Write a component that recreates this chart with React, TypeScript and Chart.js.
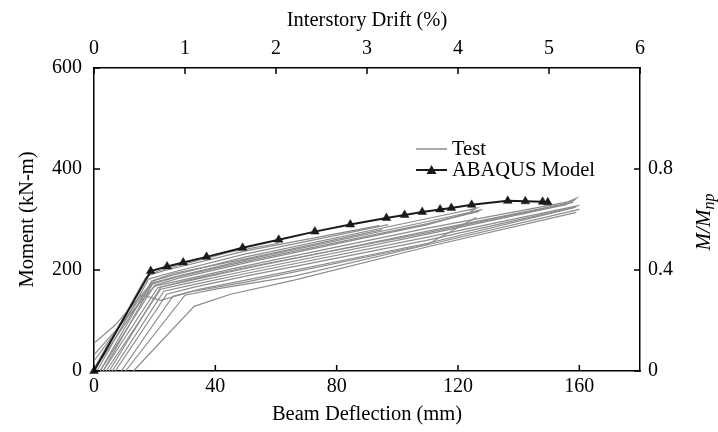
import React, { useEffect, useRef } from "react";
import { Chart, registerables } from "chart.js";

Chart.register(...registerables);

// ---- tick labels ----
const deflectionTicks = [0, 40, 80, 120, 160];
const momentTicks = [0, 200, 400, 600];
const driftTicks = [0, 1, 2, 3, 4, 5, 6];
const ratioTicks = [0, 0.4, 0.8];

// ---- ABAQUS model (mm, kN-m) ----
const abaqusDeflection = [0, 18.7, 24.1, 29.4, 37.1, 49, 60.9, 72.8, 84.5, 96.4, 102.4, 108.2, 114.1, 117.8, 124.5, 136.4, 142.2, 147.9, 149.6];
const abaqusMoment = [0, 198, 207, 215, 226, 244, 260, 276, 290, 303, 309, 315, 320, 323, 329, 337, 336, 335, 334];

// ---- Test curves: [deflection mm, moment kN-m] ----
const test01 = [[0, 0], [17, 185], [21, 198], [45, 236], [61, 253]];
const test02 = [[0, 5], [18, 190], [24, 200], [50, 238], [94, 288], [92, 285]];
const test03 = [[1, 0], [18, 182], [25, 194], [50, 232], [97, 290]];
const test04 = [[2, 0], [19, 178], [26, 190], [50, 226], [110, 302], [126, 322], [124, 316]];
const test05 = [[0, 55], [7, 91], [19, 174], [27, 187], [50, 220], [110, 296], [127, 318]];
const test06 = [[2, 0], [20, 170], [28, 184], [50, 214], [110, 290], [128, 320]];
const test07 = [[0, 32], [20, 168], [29, 180], [50, 208], [110, 283], [158, 337], [159, 342], [155, 332]];
const test08 = [[3, 0], [21, 165], [30, 177], [50, 203], [110, 277], [157, 333]];
const test09 = [[4, 0], [22, 162], [31, 174], [50, 198], [110, 271], [156, 330]];
const test10 = [[6, 0], [23, 158], [32, 170], [50, 193], [110, 265], [160, 328]];
const test11 = [[7, 0], [24, 152], [33, 166], [50, 188], [110, 259], [159, 325]];
const test12 = [[9, 0], [26, 148], [35, 162], [50, 180], [110, 253], [158, 323]];
const test13 = [[10.4, 0], [30, 150], [40, 162], [66, 188], [110, 250], [160, 320], [157, 316]];
const test14 = [[13, 0], [33, 128], [45, 152], [66, 180], [110, 246], [159, 314]];
const test15 = [[0, 20], [16, 150], [22, 140], [32, 157], [50, 176], [110, 251], [126, 304]];
const test16 = [[3, 0], [20, 180], [26, 193], [50, 222], [95, 280]];
const test17 = [[1, 10], [19, 172], [27, 186], [50, 217], [110, 292], [127, 316]];
const test18 = [[5, 0], [22, 166], [31, 180], [50, 205], [110, 274], [158, 334]];

const testCurves = [test01, test02, test03, test04, test05, test06, test07, test08, test09, test10, test11, test12, test13, test14, test15, test16, test17, test18];

const FONT = "'Liberation Serif', 'Times New Roman', serif";
const TICK_SIZE = 20;
const TITLE_SIZE = 20.5;

const inwardTicks = {
  id: "inwardTicks",
  afterDraw(chart: any) {
    const { ctx, chartArea: a, scales } = chart;
    const L = 6;
    ctx.save();
    ctx.strokeStyle = "#000";
    ctx.lineWidth = 1.5;
    const line = (x1: number, y1: number, x2: number, y2: number) => {
      ctx.beginPath();
      ctx.moveTo(x1, y1);
      ctx.lineTo(x2, y2);
      ctx.stroke();
    };
    for (const t of scales.x.ticks) {
      const p = scales.x.getPixelForValue(t.value);
      line(p, a.bottom, p, a.bottom - L);
    }
    for (const t of scales.x2.ticks) {
      const p = scales.x2.getPixelForValue(t.value);
      line(p, a.top, p, a.top + L);
    }
    for (const t of scales.y.ticks) {
      const p = scales.y.getPixelForValue(t.value);
      line(a.left, p, a.left + L, p);
    }
    for (const t of scales.y2.ticks) {
      const p = scales.y2.getPixelForValue(t.value);
      line(a.right, p, a.right - L, p);
    }
    ctx.restore();
  },
};

const customLegend = {
  id: "customLegend",
  afterDraw(chart: any) {
    const { ctx } = chart;
    const ds = chart.data.datasets;
    const abaqus = ds[0];
    const test = ds[1];
    ctx.save();
    ctx.font = `${TITLE_SIZE}px ${FONT}`;
    ctx.textBaseline = "middle";
    ctx.fillStyle = "#000";
    // Test row
    ctx.strokeStyle = "#555";
    ctx.lineWidth = 1;
    ctx.beginPath();
    ctx.moveTo(416, 149);
    ctx.lineTo(447, 149);
    ctx.stroke();
    ctx.fillText(test.label, 452, 150);
    // ABAQUS row
    ctx.strokeStyle = abaqus.borderColor;
    ctx.lineWidth = 2;
    ctx.beginPath();
    ctx.moveTo(416, 170);
    ctx.lineTo(447, 170);
    ctx.stroke();
    ctx.fillStyle = abaqus.pointBackgroundColor;
    ctx.beginPath();
    ctx.moveTo(431.5, 165);
    ctx.lineTo(436.5, 174);
    ctx.lineTo(426.5, 174);
    ctx.closePath();
    ctx.fill();
    ctx.fillStyle = "#000";
    ctx.fillText(abaqus.label, 452, 171);
    ctx.restore();
  },
};

const rightTitle = {
  id: "rightTitle",
  afterDraw(chart: any) {
    const { ctx } = chart;
    ctx.save();
    ctx.translate(704, 222);
    ctx.rotate(-Math.PI / 2);
    ctx.fillStyle = "#000";
    ctx.textBaseline = "alphabetic";
    const main = "M/M";
    const sub = "np";
    ctx.font = `italic 21px ${FONT}`;
    const w1 = ctx.measureText(main).width;
    ctx.font = `italic 16px ${FONT}`;
    const w2 = ctx.measureText(sub).width;
    const x0 = -(w1 + w2) / 2;
    ctx.font = `italic 21px ${FONT}`;
    ctx.fillText(main, x0, 6);
    ctx.font = `italic 16px ${FONT}`;
    ctx.fillText(sub, x0 + w1, 10);
    ctx.restore();
  },
};

function setTicks(values: number[]) {
  return (scale: any) => {
    scale.ticks = values.map((v) => ({ value: v }));
  };
}

export default function App() {
  const ref = useRef<HTMLCanvasElement | null>(null);

  useEffect(() => {
    if (!ref.current) return;
    Chart.defaults.font.family = FONT;
    Chart.defaults.color = "#000";

    const abaqusData = abaqusDeflection.map((x, i) => ({ x, y: abaqusMoment[i] }));

    const datasets: any[] = [
      {
        label: "ABAQUS Model",
        data: abaqusData,
        borderColor: "#1a1a1a",
        backgroundColor: "#1a1a1a",
        pointBackgroundColor: "#1a1a1a",
        pointBorderColor: "#1a1a1a",
        borderWidth: 2,
        pointStyle: "triangle",
        pointRadius: 5,
        pointBorderWidth: 0.5,
        tension: 0,
        clip: false,
        xAxisID: "x",
        yAxisID: "y",
      },
      ...testCurves.map((c) => ({
        label: "Test",
        data: c.map(([x, y]) => ({ x, y })),
        borderColor: "#8c8c8c",
        borderWidth: 1.2,
        pointRadius: 0,
        tension: 0,
        xAxisID: "x",
        yAxisID: "y",
      })),
    ];

    const tickFont = { size: TICK_SIZE, family: FONT };
    const titleFont = { size: TITLE_SIZE, family: FONT };
    const common = {
      type: "linear",
      grid: { display: false, drawTicks: false },
      border: { display: true, color: "#000", width: 1.5 },
    };

    const chart = new Chart(ref.current, {
      type: "line",
      data: { datasets },
      options: {
        responsive: false,
        animation: false,
        layout: { padding: 0 },
        plugins: {
          legend: { display: false },
          tooltip: { enabled: false },
        },
        scales: {
          x: {
            ...common,
            position: "bottom",
            min: 0,
            max: 180,
            afterBuildTicks: setTicks(deflectionTicks),
            afterFit: (s: any) => { s.height = 61; },
            ticks: { font: tickFont, padding: 4, autoSkip: false, maxRotation: 0, callback: (v: any) => String(v) },
            title: { display: true, text: "Beam Deflection (mm)", font: titleFont, padding: { top: 0, bottom: 5 } },
          },
          x2: {
            ...common,
            position: "top",
            min: 0,
            max: 6,
            afterBuildTicks: setTicks(driftTicks),
            afterFit: (s: any) => { s.height = 68; },
            ticks: { font: tickFont, padding: 7, autoSkip: false, maxRotation: 0, callback: (v: any) => String(v) },
            title: { display: true, text: "Interstory Drift (%)", font: titleFont, padding: { top: 8, bottom: 0 } },
          },
          y: {
            ...common,
            position: "left",
            min: 0,
            max: 600,
            afterBuildTicks: setTicks(momentTicks),
            afterFit: (s: any) => { s.width = 94; },
            ticks: { font: tickFont, padding: 12, autoSkip: false, callback: (v: any) => String(v) },
            title: { display: true, text: "Moment (kN-m)", font: titleFont, padding: { top: 15, bottom: 0 } },
          },
          y2: {
            ...common,
            position: "right",
            min: 0,
            max: 1.2,
            afterBuildTicks: setTicks(ratioTicks),
            afterFit: (s: any) => { s.width = 78; },
            ticks: { font: tickFont, padding: 8, autoSkip: false, callback: (v: any) => String(v) },
          },
        },
      } as any,
      plugins: [inwardTicks, customLegend, rightTitle],
    });

    return () => chart.destroy();
  }, []);

  return (
    <div style={{ position: "fixed", left: 0, top: 0, width: 718, height: 432, background: "#fff" }}>
      <canvas ref={ref} width={718} height={432} style={{ display: "block" }} />
    </div>
  );
}
